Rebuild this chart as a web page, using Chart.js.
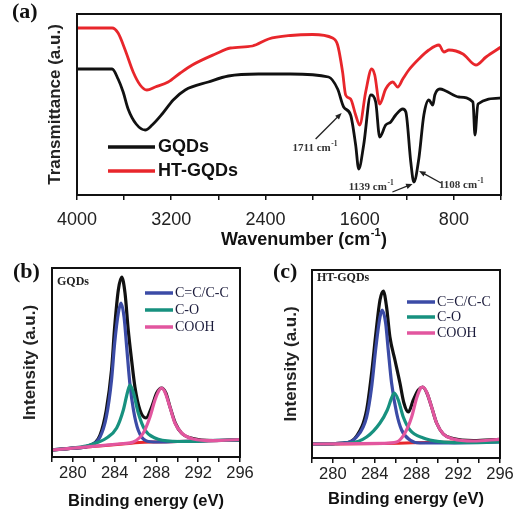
<!DOCTYPE html>
<html>
<head>
<meta charset="utf-8">
<script src="https://cdn.jsdelivr.net/npm/chart.js@4.4.1/dist/chart.umd.min.js"></script>
<style>
	body { margin: 0; background: #fff; width: 517px; height: 517px; position: relative; overflow: hidden; }
	canvas { position: absolute; }
	#ftir { left: 0; top: 0; }
	#xpsGqd { left: 0; top: 250px; }
	#xpsHt { left: 258px; top: 250px; }
</style>
</head>
<body>
<canvas id="ftir" width="517" height="250"></canvas>
<canvas id="xpsGqd" width="258" height="267"></canvas>
<canvas id="xpsHt" width="259" height="267"></canvas>
<script>
// (a) FTIR: wavenumber (cm-1) and transmittance (a.u., offset traces)
var gqdWave = [4000, 3702, 3651, 3608, 3566, 3498, 3421, 3362, 3277, 3183, 3081, 2885, 2715, 2460, 2187, 1864, 1787, 1736, 1677, 1634, 1608, 1566, 1506, 1464, 1430, 1379, 1336, 1294, 1234, 1208, 1166, 1140, 1098, 1055, 1013, 979, 962, 919, 868, 757, 638, 621, 596, 400];
var gqdTrans = [126, 126, 116, 103, 86, 71, 65, 70, 81, 95, 105, 113, 119, 121, 121, 118, 106, 88, 80, 50, 26, 50, 100, 93, 58, 70, 73, 80, 86, 83, 33, 13, 36, 80, 95, 90, 100, 106, 104, 98, 93, 60, 91, 97];
var htWave = [4000, 3702, 3651, 3591, 3523, 3464, 3407, 3336, 3226, 3123, 3021, 2825, 2698, 2510, 2374, 2187, 2000, 1830, 1787, 1745, 1719, 1677, 1634, 1600, 1549, 1498, 1472, 1430, 1379, 1319, 1277, 1234, 1183, 1098, 1013, 927, 885, 842, 723, 613, 527, 400];
var htTrans = [167, 167, 162, 145, 123, 110, 105, 108, 113, 122, 130, 141, 147, 149, 156, 159.5, 160.5, 157, 150, 123, 100, 96, 80, 70, 103, 126, 120, 91, 106, 113, 108, 116, 125, 136, 145, 150, 143, 145, 141, 130, 138, 148];
var waveTicks = [4000, 3200, 2400, 1600, 800];

// (b) C1s of GQDs: binding energy (eV) and intensity (a.u.)
var gqdEnvE = [278, 280, 281.6, 282.6, 283.2, 283.7, 284.0, 284.35, 284.67, 284.99, 285.3, 285.62, 285.94, 286.42, 287.0, 287.54, 288.02, 288.49, 288.9, 289.3, 289.8, 290.4, 291.5, 293.4, 296];
var gqdEnvI = [7, 8.8, 11.5, 22, 47, 87, 130, 167, 180, 164, 127, 97, 70, 47, 39, 50, 64, 69, 64, 50, 34, 24, 18.5, 16.5, 17];
var gqdCCE = [278, 280, 281.6, 282.6, 283.2, 283.7, 284.0, 284.35, 284.6, 284.9, 285.15, 285.45, 285.8, 286.25, 287.05, 288, 290, 293, 296];
var gqdCCI = [7, 8.8, 11.5, 20, 40, 77, 114, 144, 154, 140, 110, 74, 47, 27, 16, 15, 15.5, 16.3, 17];
var gqdCOE = [278, 280, 281.64, 283.23, 284.19, 284.83, 285.21, 285.46, 285.78, 286.26, 286.9, 287.86, 289.61, 291.2, 293, 296];
var gqdCOI = [7, 9, 12, 19, 29, 47, 64, 72, 65, 44, 27, 19, 15.7, 15.5, 16.3, 17];
var gqdCoohE = [278, 281.64, 284.83, 285.78, 286.74, 287.38, 287.86, 288.27, 288.49, 288.81, 289.29, 289.77, 290.41, 291.52, 293.44, 296];
var gqdCoohI = [7, 10.3, 13.5, 15, 24, 40, 57, 67, 69, 65, 50, 34, 24, 18, 16.3, 17.5];
var gqdBgE = [278, 281.6, 284.8, 286.4, 288, 290, 296];
var gqdBgI = [7, 10.3, 13, 14.5, 15, 15.5, 17];

// (c) C1s of HT-GQDs
var htEnvE = [278, 281, 282.27, 283.23, 283.71, 284.12, 284.51, 284.83, 285.14, 285.46, 285.94, 286.42, 286.8, 287.22, 287.7, 288.18, 288.59, 289.0, 289.45, 289.93, 290.57, 291.52, 293.44, 296];
var htEnvI = [14, 15, 22, 48, 85, 125, 158, 167, 151, 121, 98, 75, 55, 46, 58, 68, 71, 65, 51, 35, 24, 19.5, 17.5, 18.7];
var htCCE = [278, 281.0, 282.27, 283.23, 283.71, 284.12, 284.51, 284.73, 285.05, 285.3, 285.62, 286.1, 286.58, 287.38, 288.34, 290, 296];
var htCCI = [14, 15, 21, 41, 71, 111, 141, 148, 135, 108, 75, 45, 28, 18, 15, 15, 16];
var htCOE = [278, 281.64, 283.23, 284.51, 285.21, 285.62, 285.88, 286.26, 286.74, 287.38, 288.66, 290.25, 292.16, 296];
var htCOI = [14, 15, 21, 35, 48, 60, 65, 58, 41, 28, 20, 16.3, 15.3, 16];
var htCoohE = [278, 284.83, 286.1, 286.9, 287.54, 288.02, 288.4, 288.59, 288.97, 289.45, 289.93, 290.57, 291.52, 293.44, 296];
var htCoohI = [14, 14.7, 16, 25, 41, 60, 70, 71, 66, 51, 35, 24, 19, 17, 18.7];
var htBgE = [278, 285, 287, 289, 296];
var htBgI = [14, 14.5, 15, 15.5, 16.5];
var energyTicks = [280, 284, 288, 292, 296];

var sans = 'Arial, "Liberation Sans", Helvetica, sans-serif';
var serif = '"Times New Roman", "Liberation Serif", Times, serif';

function pts(xs, ys) {
	return xs.map(function (x, i) { return { x: x, y: ys[i] }; });
}

// text with a raised part, e.g. cm^-1
function supText(ctx, x, y, main, sup, tail, font, supFont, rise) {
	ctx.font = font;
	ctx.fillText(main, x, y);
	var w = ctx.measureText(main).width;
	ctx.font = supFont;
	ctx.fillText(sup, x + w + 0.5, y - rise);
	var w2 = ctx.measureText(sup).width;
	if (tail) {
		ctx.font = font;
		ctx.fillText(tail, x + w + w2 + 1, y);
	}
}

var decor = {
	id: 'decor',
	afterDraw: function (chart, args, o) {
		var ctx = chart.ctx, a = chart.chartArea, xs = chart.scales.x, ys = chart.scales.y;
		ctx.save();
		ctx.strokeStyle = '#111';
		ctx.lineWidth = 2;
		ctx.strokeRect(a.left, a.top, a.right - a.left, a.bottom - a.top);

		ctx.fillStyle = '#111';
		ctx.textBaseline = 'middle';
		ctx.textAlign = 'left';
		ctx.font = 'bold 22px ' + serif;
		ctx.fillText(o.letter[0], o.letter[1], o.letter[2]);

		if (o.sample) {
			ctx.font = 'bold 12px ' + serif;
			ctx.fillStyle = '#222';
			ctx.fillText(o.sample[0], a.left + o.sample[1], a.top + o.sample[2]);
		}

		var lg = o.legend;
		lg.items.forEach(function (di, k) {
			var ds = chart.data.datasets[di];
			var y = a.top + lg.y[k];
			ctx.strokeStyle = ds.borderColor;
			ctx.lineWidth = 3.5;
			ctx.beginPath();
			ctx.moveTo(a.left + lg.x0, y);
			ctx.lineTo(a.left + lg.x1, y);
			ctx.stroke();
			ctx.fillStyle = lg.color;
			ctx.font = lg.font;
			ctx.fillText(ds.label, a.left + lg.tx, y);
		});

		(o.notes || []).forEach(function (n) {
			ctx.fillStyle = '#333';
			supText(ctx, xs.getPixelForValue(n[0]), ys.getPixelForValue(n[1]), n[2] + ' cm', '-1', '',
				'bold 11px ' + serif, 'bold 7.5px ' + serif, 4);
		});

		(o.arrows || []).forEach(function (r) {
			var x1 = xs.getPixelForValue(r[0]), y1 = ys.getPixelForValue(r[1]);
			var x2 = xs.getPixelForValue(r[2]), y2 = ys.getPixelForValue(r[3]);
			var ang = Math.atan2(y2 - y1, x2 - x1);
			ctx.strokeStyle = '#222';
			ctx.fillStyle = '#222';
			ctx.lineWidth = 1.3;
			ctx.beginPath();
			ctx.moveTo(x1, y1);
			ctx.lineTo(x2 - 4 * Math.cos(ang), y2 - 4 * Math.sin(ang));
			ctx.stroke();
			ctx.beginPath();
			ctx.moveTo(x2, y2);
			ctx.lineTo(x2 - 7 * Math.cos(ang - 0.4), y2 - 7 * Math.sin(ang - 0.4));
			ctx.lineTo(x2 - 7 * Math.cos(ang + 0.4), y2 - 7 * Math.sin(ang + 0.4));
			ctx.closePath();
			ctx.fill();
		});

		if (o.xTitle) {
			ctx.fillStyle = '#111';
			var f = 'bold 18px ' + sans, sf = 'bold 11px ' + sans;
			ctx.font = f;
			var w = ctx.measureText(o.xTitle[0]).width + ctx.measureText(o.xTitle[2]).width;
			ctx.font = sf;
			w += ctx.measureText(o.xTitle[1]).width + 1;
			supText(ctx, o.xTitle[3] - w / 2, o.xTitle[4], o.xTitle[0], o.xTitle[1], o.xTitle[2], f, sf, 7);
		}
		ctx.restore();
	}
};

new Chart(document.getElementById('ftir'), {
	type: 'line',
	data: {
		datasets: [
			{ label: 'GQDs', data: pts(gqdWave, gqdTrans), borderColor: '#111111', borderWidth: 2.8 },
			{ label: 'HT-GQDs', data: pts(htWave, htTrans), borderColor: '#e8262b', borderWidth: 2.8 }
		]
	},
	options: {
		responsive: false,
		animation: false,
		devicePixelRatio: 1,
		layout: { padding: { top: 14, right: 16, left: 0, bottom: 0 } },
		elements: { point: { radius: 0 }, line: { cubicInterpolationMode: 'monotone' } },
		plugins: {
			legend: { display: false },
			tooltip: { enabled: false },
			decor: {
				letter: ['(a)', 12, 12],
				legend: { items: [0, 1], x0: 31, x1: 78, tx: 81, y: [133, 157], font: 'bold 18px ' + sans, color: '#111' },
				notes: [[2170, 47, '1711'], [1693, 8, '1139'], [927, 10, '1108']],
				arrows: [[1974, 56, 1753, 82], [1322, 3, 1151, 11], [910, 12, 1095, 24]],
				xTitle: ['Wavenumber (cm', '-1', ')', 304, 240]
			}
		},
		scales: {
			x: {
				type: 'linear', reverse: true, min: 400, max: 4000,
				ticks: {
					stepSize: 400, autoSkip: false, maxRotation: 0, padding: 9, color: '#222',
					font: { family: sans, size: 18 },
					callback: function (v) { return waveTicks.indexOf(v) >= 0 ? String(v) : ''; }
				},
				grid: { drawOnChartArea: false, color: '#111', tickLength: 5, lineWidth: 1.5 },
				border: { display: false },
				afterFit: function (s) { s.height = 55; s.paddingLeft = 0; s.paddingRight = 0; }
			},
			y: {
				min: 0, max: 181,
				ticks: { display: false },
				grid: { display: false },
				border: { display: false },
				title: {
					display: true, text: 'Transmittance (a.u.)', color: '#222',
					font: { family: sans, size: 17, weight: 'bold' }, padding: { top: 45, bottom: 0 }
				},
				afterFit: function (s) { s.width = 77; }
			}
		}
	},
	plugins: [decor]
});

function xpsChart(id, sets, o) {
	return new Chart(document.getElementById(id), {
		type: 'line',
		data: {
			datasets: [
				{ label: 'COOH', data: pts(sets.cooh[0], sets.cooh[1]), borderColor: '#e2569f', borderWidth: 3.2 },
				{ label: 'C-O', data: pts(sets.co[0], sets.co[1]), borderColor: '#17917f', borderWidth: 3.2 },
				{ label: 'C=C/C-C', data: pts(sets.cc[0], sets.cc[1]), borderColor: '#3b4ba6', borderWidth: 3.2 },
				{ label: 'Envelope', data: pts(sets.env[0], sets.env[1]), borderColor: '#111111', borderWidth: 3.2 },
				{ label: 'Background', data: pts(sets.bg[0], sets.bg[1]), borderColor: '#e8262b', borderWidth: 3 }
			]
		},
		options: {
			responsive: false,
			animation: false,
			devicePixelRatio: 1,
			layout: { padding: { top: o.top, right: o.right, left: 0, bottom: 0 } },
			elements: { point: { radius: 0 }, line: { cubicInterpolationMode: 'monotone' } },
			plugins: {
				legend: { display: false },
				tooltip: { enabled: false },
				decor: {
					letter: o.letter,
					sample: o.sample,
					legend: { items: [2, 1, 0], x0: o.lgx, x1: o.lgx + 28, tx: o.lgx + 30, y: o.lgy, font: '14px ' + serif, color: '#1a1a3a' }
				}
			},
			scales: {
				x: {
					type: 'linear', min: 278, max: 296,
					ticks: {
						stepSize: 2, autoSkip: false, maxRotation: 0, padding: 2, color: '#222',
						font: { family: sans, size: 16.5 },
						callback: function (v) { return energyTicks.indexOf(v) >= 0 ? String(v) : ''; }
					},
					grid: { drawOnChartArea: false, color: '#111', tickLength: 5, lineWidth: 1.5 },
					border: { display: false },
					title: {
						display: true, text: 'Binding energy (eV)', color: '#111',
						font: { family: sans, size: 16.5, weight: 'bold' }, padding: { top: 0, bottom: o.xtp }
					},
					afterFit: function (s) { s.height = o.xh; s.paddingLeft = 0; s.paddingRight = 0; }
				},
				y: {
					min: 0, max: o.ymax,
					ticks: { display: false },
					grid: { display: false },
					border: { display: false },
					title: {
						display: true, text: 'Intensity (a.u.)', color: '#222',
						font: { family: sans, size: 17, weight: 'bold' }, padding: { top: o.ytp, bottom: 0 }
					},
					afterFit: function (s) { s.width = o.yw; }
				}
			}
		},
		plugins: [decor]
	});
}

xpsChart('xpsGqd', {
	env: [gqdEnvE, gqdEnvI], cc: [gqdCCE, gqdCCI], co: [gqdCOE, gqdCOI],
	cooh: [gqdCoohE, gqdCoohI], bg: [gqdBgE, gqdBgI]
}, {
	top: 18, right: 18, xh: 60, yw: 52, ymax: 189, xtp: 6, ytp: 20,
	letter: ['(b)', 13, 22], sample: ['GQDs', 5, 14], lgx: 93, lgy: [25, 42, 59]
});

xpsChart('xpsHt', {
	env: [htEnvE, htEnvI], cc: [htCCE, htCCI], co: [htCOE, htCOI],
	cooh: [htCoohE, htCoohI], bg: [htBgE, htBgI]
}, {
	top: 20, right: 17, xh: 59, yw: 54, ymax: 188, xtp: 8, ytp: 23,
	letter: ['(c)', 15, 22], sample: ['HT-GQDs', 5, 8], lgx: 95, lgy: [32, 47, 63]
});
</script>
</body>
</html>
